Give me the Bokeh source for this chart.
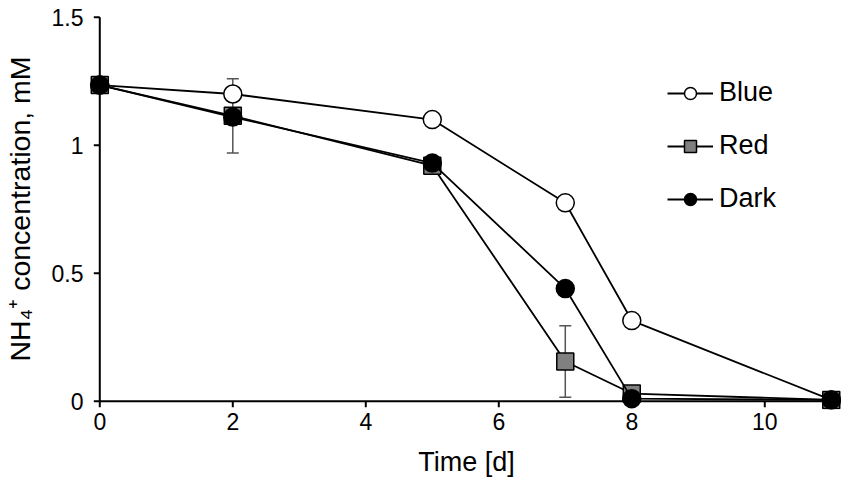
from bokeh.plotting import figure
from bokeh.models import (ColumnDataSource, Whisker, TeeHead, Legend, LegendItem,
                          FixedTicker, NumeralTickFormatter, Range1d)
from bokeh.embed import file_html
from bokeh.resources import INLINE

# ---- data ----
time = [0, 2, 5, 7, 8, 11]
blue = [1.235, 1.20, 1.10, 0.775, 0.315, 0.005]
red = [1.235, 1.115, 0.92, 0.155, 0.03, 0.005]
dark = [1.235, 1.11, 0.93, 0.44, 0.01, 0.005]
err_time = [2, 7]
err_mid = [1.115, 0.155]
err_half = [0.145, 0.14]
x_ticks = [0, 2, 4, 6, 8, 10]
y_ticks = [0, 0.5, 1, 1.5]

FONT = "Liberation Sans"
TICK_X = 6 / 66.5   # tick length (data units, x)
TICK_Y = 6 / 256.0  # tick length (data units, y)

p = figure(output_backend="svg", toolbar_location=None,
           frame_width=766, frame_height=401,
           x_range=Range1d(-0.245, 11.274), y_range=Range1d(-0.0324, 1.534),
           min_border_left=83, min_border_right=0, min_border_top=8, min_border_bottom=77)
p.outline_line_color = None
p.xgrid.visible = False
p.ygrid.visible = False

for ax in (p.xaxis[0], p.yaxis[0]):
    ax.axis_line_color = None
    ax.major_tick_line_color = None
    ax.minor_tick_line_color = None
    ax.major_tick_in = 0
    ax.major_tick_out = 0
    ax.minor_tick_in = 0
    ax.minor_tick_out = 0
    ax.major_label_text_font = FONT
    ax.major_label_text_font_size = "23px"
    ax.major_label_text_color = "black"
    ax.axis_label_text_font = FONT
    ax.axis_label_text_font_style = "normal"
    ax.axis_label_text_color = "black"

p.xaxis.axis_label_text_font_size = "27px"
p.yaxis.axis_label_text_font_size = "28.5px"
p.xaxis.major_label_standoff = 3
p.yaxis.major_label_standoff = 0
p.xaxis.ticker = FixedTicker(ticks=x_ticks)
p.yaxis.ticker = FixedTicker(ticks=y_ticks)
p.yaxis.formatter = NumeralTickFormatter(format="0.[0]")
p.xaxis.axis_label = "Time [d]"
p.yaxis.axis_label = "NH\u2084\u207a concentration, mM"
p.xaxis.axis_label_standoff = 14
p.yaxis.axis_label_standoff = 13

# axis lines and tick marks drawn at data zero
p.segment(x0=[min(time)], y0=[0], x1=[max(time)], y1=[0], line_color="black", line_width=2)
p.segment(x0=[0], y0=[0], x1=[0], y1=[max(y_ticks)], line_color="black", line_width=2)
p.segment(x0=x_ticks, y0=[0] * len(x_ticks), x1=x_ticks, y1=[-TICK_Y] * len(x_ticks),
          line_color="black", line_width=2)
p.segment(x0=[0] * len(y_ticks), y0=y_ticks, x1=[-TICK_X] * len(y_ticks), y1=y_ticks,
          line_color="black", line_width=2)

# error bars (Red)
esrc = ColumnDataSource(dict(x=err_time,
                             upper=[m + e for m, e in zip(err_mid, err_half)],
                             lower=[m - e for m, e in zip(err_mid, err_half)]))
ecol = "#555555"
w = Whisker(source=esrc, base="x", upper="upper", lower="lower",
            line_color=ecol, line_width=1.5,
            upper_head=TeeHead(size=12, line_color=ecol, line_width=1.5),
            lower_head=TeeHead(size=12, line_color=ecol, line_width=1.5))
p.add_layout(w)

bl = p.line(time, blue, line_color="black", line_width=1.8)
bm = p.scatter(time, blue, marker="circle", size=18, fill_color="white",
               line_color="black", line_width=1.5)
rl = p.line(time, red, line_color="black", line_width=1.8)
rm = p.scatter(time, red, marker="square", size=17, fill_color="#808080",
               line_color="black", line_width=1.5)
dl = p.line(time, dark, line_color="black", line_width=1.8)
dm = p.scatter(time, dark, marker="circle", size=18, fill_color="black",
               line_color="black", line_width=1.5)

legend = Legend(items=[LegendItem(label="Blue", renderers=[bl, bm]),
                       LegendItem(label="Red", renderers=[rl, rm]),
                       LegendItem(label="Dark", renderers=[dl, dm])],
                location=(584, 195), orientation="vertical",
                glyph_width=46, glyph_height=30, label_height=30, spacing=22,
                label_standoff=6, padding=0, margin=0,
                label_text_font=FONT, label_text_font_size="27px",
                label_text_color="black",
                border_line_color=None, background_fill_alpha=0)
p.add_layout(legend, "center")

open("out.html", "w").write(file_html(p, INLINE))
